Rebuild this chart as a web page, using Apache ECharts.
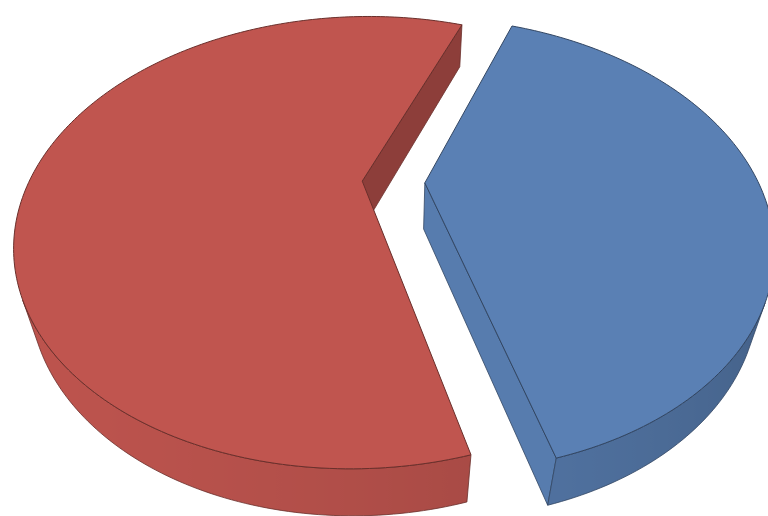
<!DOCTYPE html>
<html>
<head>
<meta charset="utf-8">
<script src="https://cdn.jsdelivr.net/npm/echarts@6/dist/echarts.min.js"></script>
<style>
  html, body { margin: 0; padding: 0; background: #ffffff; }
  #chart { width: 768px; height: 516px; }
</style>
</head>
<body>
<div id="chart"></div>
<script>
// Slice data (drawn clockwise from the start angle)
const sliceNames = ['Segment B', 'Segment A'];
const sliceValues = [40, 60];
const sliceColors = ['#5a80b4', '#c0554f'];

// Tilted-disc view: angles in degrees, lengths in disc radii, focal/centre in px
const view = {
  startAngle: 20.6,
  elevation: 39.03,
  distance: 2.852,
  focal: 950.7,
  cx: 393.5,
  cy: 182,
  thickness: 0.185,
  explode: 0.094
};

const DEG = Math.PI / 180;
const sinE = Math.sin(view.elevation * DEG);
const cosE = Math.cos(view.elevation * DEG);
const camera = [0, -view.distance * cosE, view.distance * sinE];
const light = [-0.8, -0.6];

const total = sliceValues.reduce((a, b) => a + b, 0);
const starts = [];
sliceValues.reduce((acc, v) => { starts.push(acc); return acc + v; }, 0);

// Perspective projection: X right, Y away from viewer, Z up
function project(X, Y, Z) {
  const depth = view.distance + Y * cosE - Z * sinE;
  return [
    view.cx + view.focal * X / depth,
    view.cy - view.focal * (Y * sinE + Z * cosE) / depth
  ];
}

function faces(px, py, pz, nx, ny, nz) {
  return (camera[0] - px) * nx + (camera[1] - py) * ny + (camera[2] - pz) * nz > 0;
}

function shade(hex, k) {
  const n = parseInt(hex.slice(1), 16);
  const r = Math.min(255, Math.round(((n >> 16) & 255) * k));
  const g = Math.min(255, Math.round(((n >> 8) & 255) * k));
  const b = Math.min(255, Math.round((n & 255) * k));
  return 'rgb(' + r + ',' + g + ',' + b + ')';
}

function lit(nx, ny) {
  return 0.82 + 0.16 * (nx * light[0] + ny * light[1]);
}

function poly(points, fill, stroke, width) {
  return {
    type: 'polygon',
    shape: { points: points },
    style: { fill: fill, stroke: stroke, lineWidth: width, lineJoin: 'round' }
  };
}

function renderSlice(params, api) {
  const i = params.dataIndex;
  const value = api.value(0);
  const a0 = (view.startAngle + starts[i] / total * 360) * DEG;
  const a1 = a0 + value / total * 360 * DEG;
  const mid = (a0 + a1) / 2;
  const ox = view.explode * Math.sin(mid);
  const oy = view.explode * Math.cos(mid);
  const h = view.thickness;
  const base = sliceColors[i];
  const edge = shade(base, 0.55);

  const steps = Math.max(8, Math.ceil((a1 - a0) / DEG));
  const thetas = [];
  for (let k = 0; k <= steps; k++) thetas.push(a0 + (a1 - a0) * k / steps);
  const top = thetas.map(t => project(ox + Math.sin(t), oy + Math.cos(t), 0));
  const bot = thetas.map(t => project(ox + Math.sin(t), oy + Math.cos(t), -h));
  const cTop = project(ox, oy, 0);
  const cBot = project(ox, oy, -h);

  const children = [];

  // radial cut walls
  [[a0, -1, 0], [a1, 1, steps]].forEach(([a, sgn, k]) => {
    const nx = sgn * Math.cos(a), ny = -sgn * Math.sin(a);
    const px = ox + 0.5 * Math.sin(a), py = oy + 0.5 * Math.cos(a);
    if (faces(px, py, -h / 2, nx, ny, 0)) {
      children.push(poly([cTop, top[k], bot[k], cBot], shade(base, lit(nx, ny)), edge, 0.8));
    }
  });

  // outer rim, drawn in visible runs with horizontal shading
  let run = [];
  const flush = () => {
    if (!run.length) return;
    const k0 = run[0], k1 = run[run.length - 1] + 1;
    const pts = [];
    for (let k = k0; k <= k1; k++) pts.push(top[k]);
    for (let k = k1; k >= k0; k--) pts.push(bot[k]);
    const xs = pts.map(p => p[0]);
    const minX = Math.min.apply(null, xs), maxX = Math.max.apply(null, xs);
    const stops = [];
    for (let k = k0; k <= k1; k++) {
      const t = thetas[k];
      stops.push({
        offset: Math.max(0, Math.min(1, (top[k][0] - minX) / Math.max(1, maxX - minX))),
        color: shade(base, lit(Math.sin(t), Math.cos(t)))
      });
    }
    stops.sort((p, q) => p.offset - q.offset);
    children.push(poly(pts, {
      type: 'linear', x: 0, y: 0, x2: 1, y2: 0, colorStops: stops
    }, edge, 0.8));
    run = [];
  };
  for (let k = 0; k < steps; k++) {
    const t = (thetas[k] + thetas[k + 1]) / 2;
    const nx = Math.sin(t), ny = Math.cos(t);
    if (faces(ox + nx, oy + ny, -h / 2, nx, ny, 0)) run.push(k);
    else flush();
  }
  flush();

  // top face
  children.push(poly([cTop].concat(top), base, edge, 1));

  return { type: 'group', children: children };
}

const chart = echarts.init(document.getElementById('chart'), null, { renderer: 'canvas' });
chart.setOption({
  animation: false,
  backgroundColor: '#ffffff',
  series: [{
    type: 'custom',
    coordinateSystem: 'none',
    silent: true,
    renderItem: renderSlice,
    data: sliceValues.map((v, i) => ({ name: sliceNames[i], value: [v, i] }))
  }]
});
</script>
</body>
</html>
